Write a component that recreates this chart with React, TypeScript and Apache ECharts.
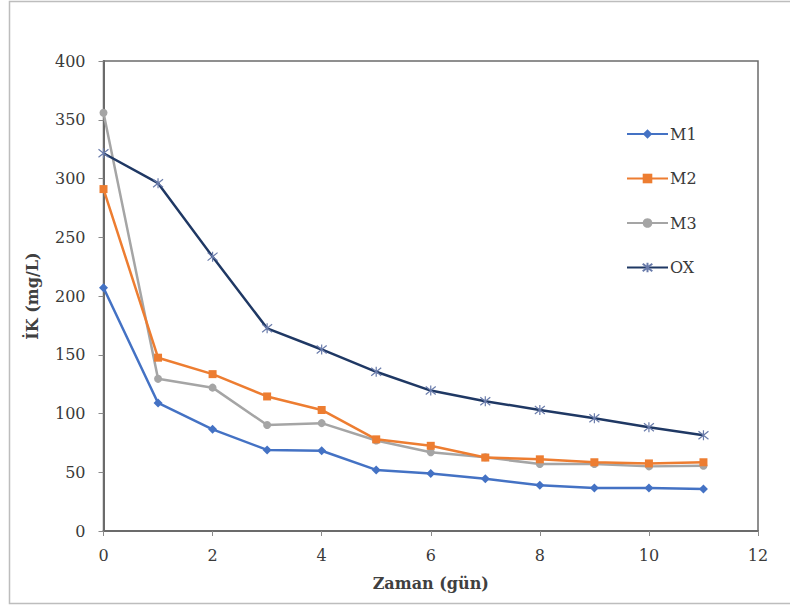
import React, { useEffect, useRef } from "react";
import * as echarts from "echarts";

const days = [0, 1, 2, 3, 4, 5, 6, 7, 8, 9, 10, 11];
const m1 = [207, 109, 86.5, 69, 68.3, 52, 49, 44.5, 39, 36.5, 36.5, 35.7];
const m2 = [291, 147.5, 133.5, 114.5, 103, 78, 72.5, 62.5, 61, 58.5, 57.5, 58.5];
const m3 = [356, 129.5, 122, 90.2, 91.8, 77, 67, 62.7, 57, 57, 55, 55.6];
const ox = [321.5, 296, 233.5, 172.5, 154.5, 135.5, 119.5, 110.5, 103, 96, 88.3, 81.5];
const seriesNames = ["M1", "M2", "M3", "OX"];
const xTicks = { min: 0, max: 12, interval: 2 };
const yTicks = { min: 0, max: 400, interval: 50 };

const FONT = "'DejaVu Serif', 'Liberation Serif', serif";
const STAR = "path://M1,1L9,9M9,1L1,9M5,0L5,10";

const toPairs = (vals: number[]) => days.map((d, i) => [d, vals[i]]);

export default function App() {
  const ref = useRef<HTMLDivElement>(null);
  useEffect(() => {
    if (!ref.current) return;
    const chart = echarts.init(ref.current, null, { renderer: "svg" });
    const axisLine = { show: true, lineStyle: { color: "#6b6b6b", width: 2 } };
    chart.setOption({
      animation: false,
      backgroundColor: "#ffffff",
      graphic: [
        {
          type: "rect",
          shape: { x: 9.5, y: 1.5, width: 800, height: 602 },
          style: { fill: "none", stroke: "#bdbdbd", lineWidth: 1.5 },
          silent: true,
        },
      ],
      grid: {
        left: 103.5,
        right: 32,
        top: 61,
        bottom: 79,
        show: true,
        borderColor: "#6b6b6b",
        borderWidth: 1.5,
        backgroundColor: "transparent",
      },
      legend: {
        orient: "vertical",
        left: 621,
        top: 121,
        itemWidth: 41,
        itemHeight: 12,
        itemGap: 28.5,
        textStyle: { fontFamily: FONT, fontSize: 16, color: "#3a3a3a", padding: [0, 0, 0, -3] },
        data: seriesNames,
      },
      xAxis: {
        type: "value",
        min: xTicks.min,
        max: xTicks.max,
        interval: xTicks.interval,
        name: "Zaman (gün)",
        nameLocation: "middle",
        nameGap: 44,
        nameTextStyle: { fontFamily: FONT, fontSize: 16, fontWeight: "bold", color: "#404040" },
        axisLine,
        axisTick: { show: true, length: 5, lineStyle: { color: "#8a8a8a", width: 1 } },
        axisLabel: { fontFamily: FONT, fontSize: 16, color: "#3a3a3a", margin: 16 },
        splitLine: { show: false },
      },
      yAxis: {
        type: "value",
        min: yTicks.min,
        max: yTicks.max,
        interval: yTicks.interval,
        name: "İK (mg/L)",
        nameLocation: "middle",
        nameGap: 63,
        nameTextStyle: { fontFamily: FONT, fontSize: 16, fontWeight: "bold", color: "#404040" },
        axisLine,
        axisTick: { show: true, length: 5, lineStyle: { color: "#8a8a8a", width: 1 } },
        axisLabel: { fontFamily: FONT, fontSize: 16, color: "#3a3a3a", margin: 18 },
        splitLine: { show: false },
      },
      series: [
        {
          name: "M1",
          type: "line",
          data: toPairs(m1),
          symbol: "diamond",
          symbolSize: 9,
          itemStyle: { color: "#4472C4" },
          lineStyle: { color: "#4472C4", width: 2.5 },
          z: 4,
        },
        {
          name: "M2",
          type: "line",
          data: toPairs(m2),
          symbol: "rect",
          symbolSize: 8,
          itemStyle: { color: "#ED7D31" },
          lineStyle: { color: "#ED7D31", width: 2.5 },
          z: 3,
        },
        {
          name: "M3",
          type: "line",
          data: toPairs(m3),
          symbol: "circle",
          symbolSize: 8,
          itemStyle: { color: "#A5A5A5" },
          lineStyle: { color: "#A5A5A5", width: 2.5 },
          z: 2,
        },
        {
          name: "OX",
          type: "line",
          data: toPairs(ox),
          symbol: STAR,
          symbolSize: 10,
          itemStyle: { color: "#5a6d9a", borderColor: "#6a7cab", borderWidth: 1.2 },
          lineStyle: { color: "#1F3864", width: 2.5 },
          z: 5,
        },
      ],
    });
    return () => chart.dispose();
  }, []);
  return (
    <div
      ref={ref}
      style={{ position: "fixed", left: 0, top: 0, width: 790, height: 610 }}
    />
  );
}
